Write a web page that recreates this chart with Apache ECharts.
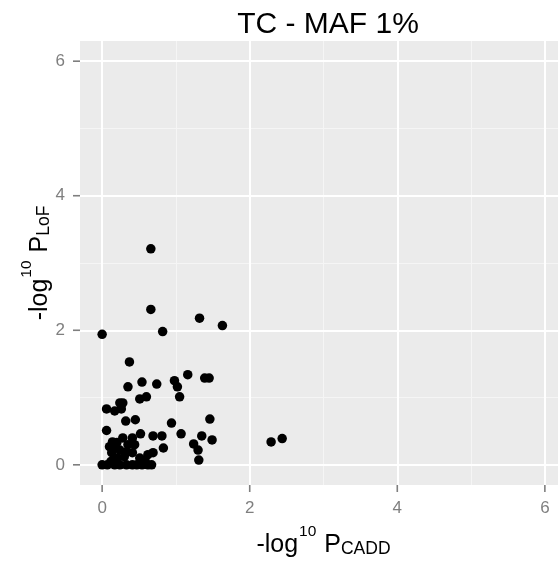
<!DOCTYPE html>
<html>
<head>
<meta charset="utf-8">
<script src="https://cdn.jsdelivr.net/npm/echarts@6/dist/echarts.min.js"></script>
<style>
  html, body { margin: 0; padding: 0; background: #ffffff; }
  #chart { width: 558px; height: 563px; }
</style>
</head>
<body>
<div id="chart"></div>
<script>
// -log10 P from the CADD test (x) and the LoF burden test (y), one value per gene
const caddScore = [
  0.66, 0.66, 0.00, 0.82, 1.32, 1.63, 0.37, 0.35, 0.54, 0.74,
  0.98, 1.02, 1.16, 1.39, 1.45, 1.05, 0.51, 0.60, 0.06, 0.17,
  0.24, 0.28, 0.26, 0.32, 0.45, 0.94, 1.46, 0.06, 0.52, 0.69,
  0.81, 1.07, 1.35, 1.49, 1.24, 1.30, 1.31, 0.83, 2.29, 2.44,
  0.28, 0.41, 0.14, 0.10, 0.17, 0.13, 0.33, 0.41, 0.69, 0.62,
  0.00, 0.07, 0.17, 0.24, 0.33, 0.41, 0.47, 0.54, 0.62, 0.67,
  0.21, 0.30, 0.51, 0.58, 0.24, 0.17, 0.44, 0.35, 0.12, 0.20
];
const lofScore = [
  3.21, 2.31, 1.94, 1.98, 2.18, 2.07, 1.53, 1.16, 1.23, 1.20,
  1.25, 1.16, 1.34, 1.29, 1.29, 1.01, 0.98, 1.01, 0.83, 0.80,
  0.92, 0.92, 0.83, 0.65, 0.67, 0.62, 0.68, 0.51, 0.46, 0.43,
  0.43, 0.46, 0.43, 0.37, 0.31, 0.22, 0.07, 0.25, 0.34, 0.39,
  0.40, 0.40, 0.34, 0.27, 0.27, 0.18, 0.19, 0.18, 0.18, 0.15,
  0.00, 0.00, 0.00, 0.00, 0.00, 0.00, 0.00, 0.00, 0.00, 0.00,
  0.10, 0.12, 0.10, 0.07, 0.22, 0.07, 0.30, 0.30, 0.05, 0.33
];
const majorTicks = [0, 2, 4, 6];
const minorTicks = [1, 3, 5];

const xRange = [-0.3, 6.178];
const yRange = [-0.3, 6.3];

const points = caddScore.map((x, i) => [x, lofScore[i]]);

const font = '"Liberation Sans", Arial, Helvetica, sans-serif';
const tickGrey = '#7f7f7f';
const tickLen = 7;

// Rich-text styles for "-log10 P<sub>" axis titles
const titleRich = {
  m:   { fontSize: 25, color: '#000', fontFamily: font, lineHeight: 34, verticalAlign: 'bottom' },
  sup: { fontSize: 15.5, color: '#000', fontFamily: font, lineHeight: 7, verticalAlign: 'top', padding: [0, 1, 0, 1] },
  sub: { fontSize: 17.5, color: '#000', fontFamily: font, lineHeight: 27, verticalAlign: 'bottom' }
};

function axisCommon(range, labelMargin) {
  return {
    type: 'value',
    min: range[0],
    max: range[1],
    axisLine: { show: false, onZero: false },
    axisTick: { show: false },
    axisLabel: {
      color: tickGrey, fontSize: 17, fontFamily: font, margin: labelMargin,
      customValues: majorTicks,
      formatter: v => String(v)
    },
    splitLine: { show: false },
    minorTick: { show: false },
    minorSplitLine: { show: false },
    nameMoveOverlap: false
  };
}

const xAxis = Object.assign(axisCommon(xRange, 15), {
  name: '{m|-log}{sup|10}{m| P}{sub|CADD}',
  nameLocation: 'middle',
  nameGap: 39,
  nameTextStyle: { fontFamily: font, padding: [0, 0, 0, 9], rich: titleRich }
});
const yAxis = Object.assign(axisCommon(yRange, 15), {
  name: '{m|-log}{sup|10}{m| P}{sub|LoF}',
  nameLocation: 'middle',
  nameRotate: 90,
  nameGap: 27,
  nameTextStyle: { fontFamily: font, rich: titleRich }
});

// Panel grid: thick white lines at labelled values, faint ones halfway between
function gridLines(values) {
  return values.map(v => ({ xAxis: v })).concat(values.map(v => ({ yAxis: v })));
}

const chart = echarts.init(document.getElementById('chart'), null, { renderer: 'canvas' });
chart.setOption({
  animation: false,
  backgroundColor: '#ffffff',
  title: {
    text: 'TC - MAF 1%',
    left: 323, top: 5, textAlign: 'center',
    textStyle: { fontFamily: font, fontSize: 30, fontWeight: 'normal', color: '#000' }
  },
  grid: {
    left: 80, right: 0, top: 41, bottom: 78,
    show: true, backgroundColor: '#ebebeb', borderWidth: 0
  },
  xAxis: xAxis,
  yAxis: yAxis,
  series: [
    {
      type: 'scatter', data: [], silent: true, z: 1,
      markLine: {
        silent: true, symbol: 'none', label: { show: false },
        lineStyle: { color: '#f5f5f5', width: 1, type: 'solid' },
        data: gridLines(minorTicks)
      }
    },
    {
      type: 'scatter', data: [], silent: true, z: 2,
      markLine: {
        silent: true, symbol: 'none', label: { show: false },
        lineStyle: { color: '#ffffff', width: 2, type: 'solid' },
        data: gridLines(majorTicks)
      }
    },
    {
      type: 'scatter',
      data: points,
      symbol: 'circle',
      symbolSize: 9.5,
      itemStyle: { color: '#000000', opacity: 1 },
      z: 5
    }
  ]
});

// Outward tick marks on the panel edges, placed through the axis scales
const tickStyle = { stroke: tickGrey, lineWidth: 1.6 };
const tickMarks = [];
majorTicks.forEach(v => {
  const px = chart.convertToPixel({ gridIndex: 0 }, [v, yRange[0]]);
  tickMarks.push({ type: 'line', silent: true, z: 100,
    shape: { x1: px[0], y1: px[1], x2: px[0], y2: px[1] + tickLen }, style: tickStyle });
  const py = chart.convertToPixel({ gridIndex: 0 }, [xRange[0], v]);
  tickMarks.push({ type: 'line', silent: true, z: 100,
    shape: { x1: py[0] - tickLen, y1: py[1], x2: py[0], y2: py[1] }, style: tickStyle });
});
chart.setOption({ graphic: { elements: tickMarks } });
</script>
</body>
</html>
